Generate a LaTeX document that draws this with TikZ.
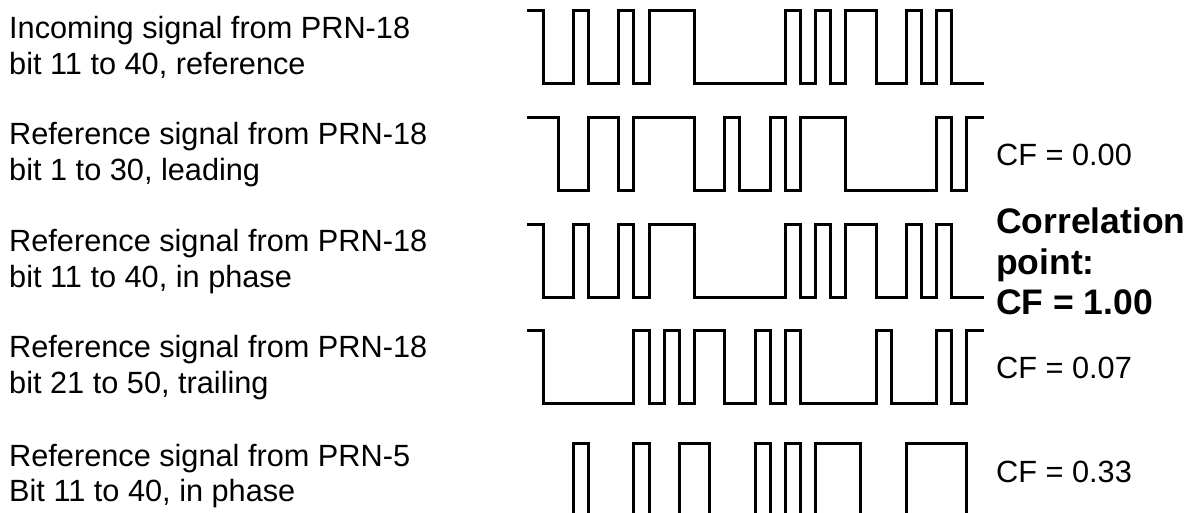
\documentclass[tikz,border=0pt]{standalone}
\usepackage{fontspec}
\setmainfont{Liberation Sans}
\tikzset{every node/.style={font=\fontsize{30.7}{35.5}\selectfont,inner sep=0pt,align=left},line cap=round,line join=round}
\tikzset{chip/.style={line width=3pt,line cap=rect}}
\newcommand{\chipwave}[2]{%
  \foreach \c [count=\k from 0, remember=\c as \p (initially 9)] in {#2} {
    \pgfmathsetmacro{\xa}{528+\k*15.133}
    \pgfmathsetmacro{\ya}{#1-73*(1-\c)}
    \draw[chip] (\xa,\ya) -- ++(15.133,0);
    \ifnum\p=9 \else\ifnum\p=\c \else
      \draw[chip] (\xa,#1) -- (\xa,#1-73);
    \fi\fi
  }}

\begin{document}
\begin{tikzpicture}[x=1pt,y=1pt]
  \clip (0,0) rectangle (1188,513);
  \node[anchor=west] (lblinc) at (9,465.5) {Incoming signal from PRN-18\\bit 11 to 40, reference};
  \node[anchor=west] (lbllead) at (9,358.5) {Reference signal from PRN-18\\bit 1 to 30, leading};
  \node[anchor=west] (lblphase) at (9,251.5) {Reference signal from PRN-18\\bit 11 to 40, in phase};
  \node[anchor=west] (lbltrail) at (9,145.5) {Reference signal from PRN-18\\bit 21 to 50, trailing};
  \node[anchor=west] (lblprn5) at (9,37) {Reference signal from PRN-5\\Bit 11 to 40, in phase};
  \chipwave{502}{1,0,0,1,0,0,1,0,1,1,1,0,0,0,0,0,0,1,0,1,0,1,1,0,0,1,0,1,0,0}
  \chipwave{395}{1,1,0,0,1,1,0,1,1,1,1,0,0,1,0,0,1,0,1,1,1,0,0,0,0,0,0,1,0,1}
  \chipwave{288}{1,0,0,1,0,0,1,0,1,1,1,0,0,0,0,0,0,1,0,1,0,1,1,0,0,1,0,1,0,0}
  \chipwave{182}{1,0,0,0,0,0,0,1,0,1,0,1,1,0,0,1,0,1,0,0,0,0,0,1,0,0,0,1,0,1}
  \chipwave{69}{0,0,0,1,0,0,0,1,0,0,1,1,0,0,0,1,0,1,0,1,1,1,0,0,0,1,1,1,1,0}
  \node[anchor=west] (cflead) at (996,358.5) {CF = 0.00};
  \node[anchor=west,font=\fontsize{35.5}{40.5}\selectfont\bfseries] (cfphase) at (996,251.5) {Correlation\\point:\\CF = 1.00};
  \node[anchor=west] (cftrail) at (996,145.5) {CF = 0.07};
  \node[anchor=west] (cfprn5) at (996,41) {CF = 0.33};
\end{tikzpicture}
\end{document}
